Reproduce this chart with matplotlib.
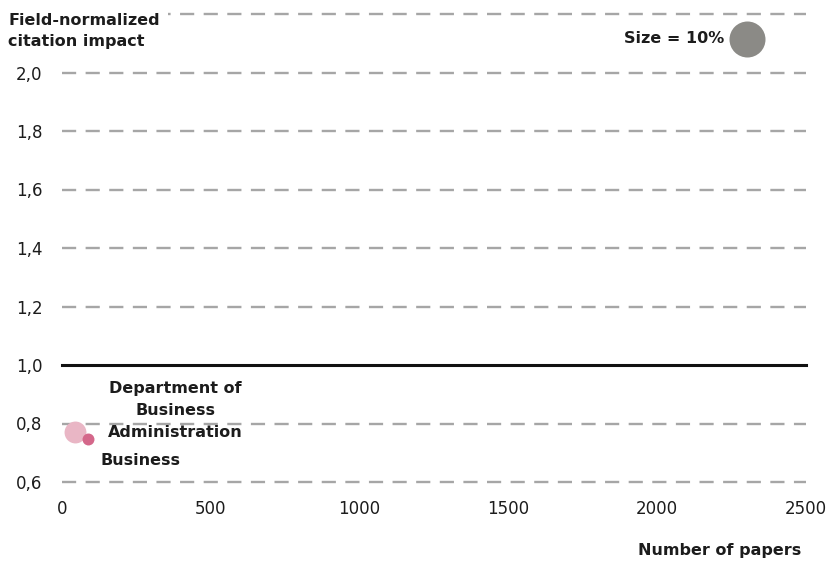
import matplotlib
matplotlib.use("Agg")
import matplotlib.pyplot as plt
from matplotlib.ticker import FuncFormatter

# Units plotted: papers, field-normalized impact, size share (%)
units = ["Department of\nBusiness\nAdministration", "Business"]
papers = [87, 44]
impact = [0.747, 0.771]
share = [1.1, 3.7]
colors = ["#d4678a", "#e9b6c5"]

legend_share = 10.0
legend_pos = (2302, 2.116)

x_ticks = [0, 500, 1000, 1500, 2000, 2500]
y_ticks = [0.6, 0.8, 1.0, 1.2, 1.4, 1.6, 1.8, 2.0, 2.2]

plt.rcParams["font.family"] = ["DejaVu Sans"]
TXT = "#1c1c1c"

fig = plt.figure(figsize=(8.32, 5.62), dpi=100)
ax = fig.add_axes([62 / 832, 1 - 482 / 562, 744 / 832, 468 / 562])
ax.set_xlim(0, 2500)
ax.set_ylim(0.6, 2.2)

for s in ax.spines.values():
    s.set_visible(False)

# dashed horizontal grid, solid reference line at 1.0
for y in y_ticks:
    if abs(y - 1.0) < 1e-9:
        ax.axhline(y, color="#111111", lw=2.2, zorder=1, clip_on=False)
    else:
        ax.axhline(y, color="#a6a6a6", lw=1.7, ls=(0, (6, 4)), zorder=1, clip_on=False)

# marker area proportional to share; 10% -> diameter ~36 px
k = (36 * 72 / 100) ** 2 / legend_share

ax.scatter(papers[1], impact[1], s=k * share[1], color=colors[1], zorder=3, lw=0)
ax.scatter(papers[0], impact[0], s=k * share[0], color=colors[0], zorder=4, lw=0)
ax.scatter(*legend_pos, s=k * legend_share, color="#8b8a86", zorder=3, lw=0, clip_on=False)

lbl = dict(fontsize=11.5, fontweight="bold", color=TXT)
ax.text(380, 0.845, units[0], ha="center", va="center", linespacing=1.6, **lbl)
ax.text(265, 0.673, units[1], ha="center", va="center", **lbl)
ax.text(2224, 2.116, "Size = 10%", ha="right", va="center", **lbl)

ax.set_xticks(x_ticks)
ax.set_yticks([t for t in y_ticks if t <= 2.0])
ax.yaxis.set_major_formatter(FuncFormatter(lambda v, p: f"{v:.1f}".replace(".", ",")))
ax.xaxis.set_major_formatter(FuncFormatter(lambda v, p: f"{int(v)}"))
ax.tick_params(length=0, labelsize=12, colors=TXT)
ax.tick_params(axis="y", pad=14)
ax.tick_params(axis="x", pad=13)

fig.text(8 / 832, 1 - 31 / 562, "Field-normalized\ncitation impact", ha="left", va="center",
         linespacing=1.45, bbox=dict(facecolor="white", edgecolor="none", pad=6), **lbl)
fig.text(801 / 832, 1 - 550 / 562, "Number of papers", ha="right", va="center", **lbl)

fig.savefig("out.png", dpi=100)
